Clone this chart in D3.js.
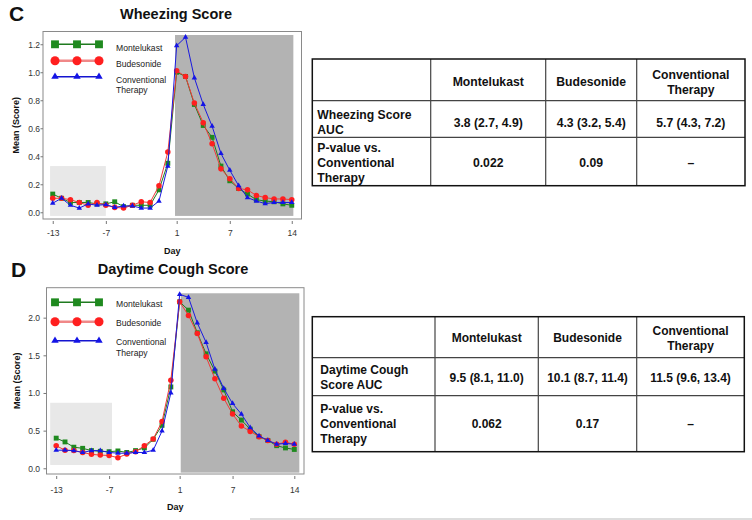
<!DOCTYPE html>
<html><head><meta charset="utf-8">
<script src="https://cdn.jsdelivr.net/npm/d3@7"></script>
<style>
body{margin:0;background:#fff;}
svg{display:block;font-family:"Liberation Sans",Arial,Helvetica,sans-serif;}
</style>
</head><body>
<svg id="chart" width="752" height="520"></svg>
<script>
// ---------------- DATA ----------------
const days = [-13,-12,-11,-10,-9,-8,-7,-6,-5,-4,-3,-2,-1,0,1,2,3,4,5,6,7,8,9,10,11,12,13,14];
const xTickDays = [-13,-7,1,7,14];
const seriesNames = ["Montelukast","Budesonide","Conventional Therapy"];

const wheezeMontelukast  = [0.13,0.10,0.07,0.07,0.07,0.06,0.06,0.075,0.04,0.05,0.05,0.05,0.16,0.35, 1.00,0.97,0.77,0.62,0.535,0.33,0.225,0.17,0.13,0.09,0.08,0.075,0.06,0.05];
const wheezeBudesonide   = [0.10,0.10,0.09,0.07,0.05,0.07,0.05,0.035,0.03,0.05,0.075,0.07,0.19,0.43, 1.01,0.97,0.78,0.64,0.49,0.31,0.24,0.17,0.16,0.12,0.105,0.095,0.095,0.09];
const wheezeConventional = [0.065,0.10,0.05,0.03,0.06,0.05,0.055,0.035,0.045,0.045,0.03,0.03,0.08,0.33, 1.19,1.25,0.96,0.77,0.615,0.42,0.30,0.19,0.105,0.08,0.062,0.07,0.07,0.07];
const wheezeYTicks = [0,0.2,0.4,0.6,0.8,1.0,1.2];

const coughMontelukast  = [0.40,0.35,0.28,0.265,0.235,0.225,0.22,0.23,0.21,0.235,0.27,0.385,0.57,1.08, 2.21,2.10,1.80,1.52,1.29,1.04,0.75,0.64,0.52,0.42,0.37,0.30,0.27,0.25];
const coughBudesonide   = [0.30,0.24,0.235,0.21,0.185,0.175,0.17,0.14,0.19,0.22,0.30,0.39,0.62,1.17, 2.21,2.03,1.79,1.48,1.19,0.93,0.72,0.56,0.49,0.42,0.37,0.32,0.345,0.32];
const coughConventional = [0.24,0.24,0.235,0.21,0.235,0.235,0.21,0.20,0.20,0.21,0.21,0.24,0.495,1.00, 2.31,2.27,1.93,1.67,1.315,1.06,0.86,0.72,0.54,0.43,0.37,0.32,0.33,0.32];
const coughYTicks = [0,0.5,1.0,1.5,2.0];

// shaded windows [dayStart, dayEnd, valueLow, valueHigh]
const wheezeBaselineWindow = [-13.3,-7,-0.026,0.33];
const wheezeIllnessWindow  = [0.81,14.18,-0.026,1.266];
const coughBaselineWindow  = [-13.68,-6.67,0.044,0.87];
const coughIllnessWindow   = [1.12,14.57,-0.058,2.324];

// tables
const tableHeaders = [["Montelukast"],["Budesonide"],["Conventional","Therapy"]];
const wheezeRowLabels = [["Wheezing Score","AUC"],["P-value vs.","Conventional","Therapy"]];
const wheezeAUC = ["3.8 (2.7, 4.9)","4.3 (3.2, 5.4)","5.7 (4.3, 7.2)"];
const wheezeP   = ["0.022","0.09","–"];
const coughRowLabels = [["Daytime Cough","Score AUC"],["P-value vs.","Conventional","Therapy"]];
const coughAUC = ["9.5 (8.1, 11.0)","10.1 (8.7, 11.4)","11.5 (9.6, 13.4)"];
const coughP   = ["0.062","0.17","–"];

// ---------------- STYLE ----------------
const styles = [
  {sym: d3.symbolSquare,   size: 24, lsize: 62, fill:"#1f8a1f", line:"#1f7a1f", lline:"#1f7a1f", lw:1.5},
  {sym: d3.symbolCircle,   size: 24, lsize: 64, fill:"#ff1f1f", line:"#f03a3a", lline:"#f08888", lw:2.5},
  {sym: d3.symbolTriangle, size: 13, lsize: 24, fill:"#1414e6", line:"#1a1ae0", lline:"#1414d0", lw:1.5}
];

const svg = d3.select("#chart");
const hyphenInt = d => String(d);  // plain hyphen-minus, as in the reference

function drawPanel(o) {
  const g = svg.append("g");
  const x = d3.scaleLinear().domain([-14.1, 15.1]).range([o.frame.l, o.frame.r]);
  const y = d3.scaleLinear().domain(o.yDomain).range([o.frame.b, o.frame.t]);

  const shade = (w, col) => g.append("rect")
    .attr("x", x(w[0])).attr("width", x(w[1]) - x(w[0]))
    .attr("y", y(w[3])).attr("height", y(w[2]) - y(w[3]))
    .attr("fill", col);
  shade(o.baseline, "#e8e8e8");
  shade(o.illness, "#b3b3b3");

  g.append("rect").attr("x", o.frame.l).attr("y", o.frame.t)
    .attr("width", o.frame.r - o.frame.l).attr("height", o.frame.b - o.frame.t)
    .attr("fill", "none").attr("stroke", "#8a8a8a").attr("stroke-width", 1);

  const xa = g.append("g").attr("transform", `translate(0,${o.frame.b + 2})`)
    .call(d3.axisBottom(x).tickValues(xTickDays).tickSize(3).tickFormat(hyphenInt));
  xa.select(".domain").remove();
  xa.selectAll("line").attr("stroke", "#777");
  xa.selectAll("text").attr("y", o.xLabelOff).attr("dy", 0)
    .attr("font-size", 8.5).attr("fill", "#333").attr("font-family", null);

  const ya = g.append("g").attr("transform", `translate(${o.frame.l},0)`)
    .call(d3.axisLeft(y).tickValues(o.yTicks).tickSize(o.yTick).tickFormat(d3.format(".1f")));
  ya.select(".domain").remove();
  ya.selectAll("line").attr("stroke", "#777");
  ya.selectAll("text").attr("x", -(o.frame.l - 40)).attr("dy", "0.33em")
    .attr("font-size", 8.5).attr("fill", "#333").attr("font-family", null);

  o.series.forEach((vals, i) => {
    const st = styles[i];
    const pts = days.map((d, k) => [d, vals[k]]);
    g.append("path").datum(pts)
      .attr("d", d3.line().x(p => x(p[0])).y(p => y(p[1])))
      .attr("fill", "none").attr("stroke", st.line).attr("stroke-width", 1);
    g.selectAll(null).data(pts).enter().append("path")
      .attr("transform", p => `translate(${x(p[0])},${y(p[1])})`)
      .attr("d", d3.symbol().type(st.sym).size(st.size))
      .attr("fill", st.fill);
  });

  o.legendY.forEach((ly, i) => {
    const st = styles[i];
    g.append("line").attr("x1", 55).attr("x2", 99).attr("y1", ly).attr("y2", ly)
      .attr("stroke", st.lline).attr("stroke-width", st.lw);
    [55, 77, 99].forEach(lx => {
      g.append("path").attr("transform", `translate(${lx},${ly})`)
        .attr("d", d3.symbol().type(st.sym).size(st.lsize))
        .attr("fill", st.fill);
    });
    const words = seriesNames[i] === "Conventional Therapy" ? ["Conventional","Therapy"] : [seriesNames[i]];
    words.forEach((w, j) => {
      g.append("text").attr("x", 116).attr("y", ly + o.legendTextOff + j * 10.5)
        .attr("font-size", 8.6).attr("fill", "#222").text(w);
    });
  });

  g.append("text").attr("x", o.letterX).attr("y", o.letterY).attr("font-size", 21)
    .attr("font-weight", "bold").attr("fill", "#111").text(o.letter);
  g.append("text").attr("x", o.titleX).attr("y", o.titleY).attr("text-anchor", "middle")
    .attr("font-size", 14.5).attr("font-weight", "bold").attr("fill", "#111").text(o.title);
  g.append("text").attr("x", (o.frame.l + o.frame.r) / 2).attr("y", o.dayY).attr("text-anchor", "middle")
    .attr("font-size", 9).attr("font-weight", "bold").attr("fill", "#111").text("Day");
  g.append("text").attr("transform", `translate(${o.yLabX},${(o.frame.t + o.frame.b) / 2}) rotate(-90)`)
    .attr("text-anchor", "middle").attr("font-size", 9).attr("font-weight", "bold").attr("fill", "#111")
    .text("Mean (Score)");
}

function drawTable(o) {
  const g = svg.append("g");
  const cx = o.cols, ry = o.rows;
  for (let i = 1; i < cx.length - 1; i++)
    g.append("line").attr("x1", cx[i]).attr("x2", cx[i]).attr("y1", ry[0]).attr("y2", ry[ry.length - 1])
      .attr("stroke", "#444").attr("stroke-width", 1.2);
  for (let j = 1; j < ry.length - 1; j++)
    g.append("line").attr("x1", cx[0]).attr("x2", cx[cx.length - 1]).attr("y1", ry[j]).attr("y2", ry[j])
      .attr("stroke", "#444").attr("stroke-width", 1.2);
  g.append("rect").attr("x", cx[0]).attr("y", ry[0]).attr("width", cx[cx.length - 1] - cx[0])
    .attr("height", ry[ry.length - 1] - ry[0]).attr("fill", "none").attr("stroke", "#111").attr("stroke-width", 1.5);

  const lh = o.lh;
  const cell = (lines, col, row, anchor) => {
    const c = (ry[row] + ry[row + 1]) / 2;
    lines.forEach((t, i) => {
      const by = c + (i - (lines.length - 1) / 2) * lh + o.off[row];
      g.append("text")
        .attr("x", anchor === "start" ? cx[col] + o.pad : (cx[col] + cx[col + 1]) / 2)
        .attr("y", by).attr("text-anchor", anchor)
        .attr("font-size", o.fs).attr("font-weight", "bold").attr("fill", "#111").text(t);
    });
  };
  tableHeaders.forEach((h, i) => cell(h, i + 1, 0, "middle"));
  o.rowLabels.forEach((l, j) => cell(l, 0, j + 1, "start"));
  o.auc.forEach((v, i) => cell([v], i + 1, 1, "middle"));
  o.p.forEach((v, i) => cell([v], i + 1, 2, "middle"));
}

drawPanel({
  frame: {l: 43, r: 301.5, t: 31.5, b: 219},
  yDomain: [-0.048, 1.291], yTicks: wheezeYTicks, yTick: 2.5,
  series: [wheezeMontelukast, wheezeBudesonide, wheezeConventional],
  baseline: wheezeBaselineWindow, illness: wheezeIllnessWindow,
  legendY: [44.3, 60.7, 76.7], legendTextOff: 6.2,
  xLabelOff: 14.5, dayY: 253.5, yLabX: 18.5,
  letter: "C", letterX: 9, letterY: 21, title: "Wheezing Score", titleX: 176, titleY: 19
});
drawPanel({
  frame: {l: 46.5, r: 304, t: 287.7, b: 474},
  yDomain: [-0.076, 2.398], yTicks: coughYTicks, yTick: 3,
  series: [coughMontelukast, coughBudesonide, coughConventional],
  baseline: coughBaselineWindow, illness: coughIllnessWindow,
  legendY: [302.3, 321.7, 340.7], legendTextOff: 4.6,
  xLabelOff: 16.5, dayY: 510, yLabX: 20,
  letter: "D", letterX: 11, letterY: 277, title: "Daytime Cough Score", titleX: 173, titleY: 274
});

drawTable({
  cols: [312.3, 430.7, 545.7, 636.7, 745], rows: [59, 100.7, 137.3, 185.7],
  rowLabels: wheezeRowLabels, auc: wheezeAUC, p: wheezeP, pad: 5, off: [6.5, 7.5, 5.5], lh: 15, fs: 12.2
});
drawTable({
  cols: [312.3, 435, 538.3, 636.7, 744.3], rows: [316.7, 357.7, 395.7, 451.7],
  rowLabels: coughRowLabels, auc: coughAUC, p: coughP, pad: 8, off: [5, 5, 3.8], lh: 15, fs: 12
});

svg.append("line").attr("x1", 250).attr("x2", 752).attr("y1", 519).attr("y2", 519)
  .attr("stroke", "#bbb").attr("stroke-width", 1);
</script>
</body></html>
